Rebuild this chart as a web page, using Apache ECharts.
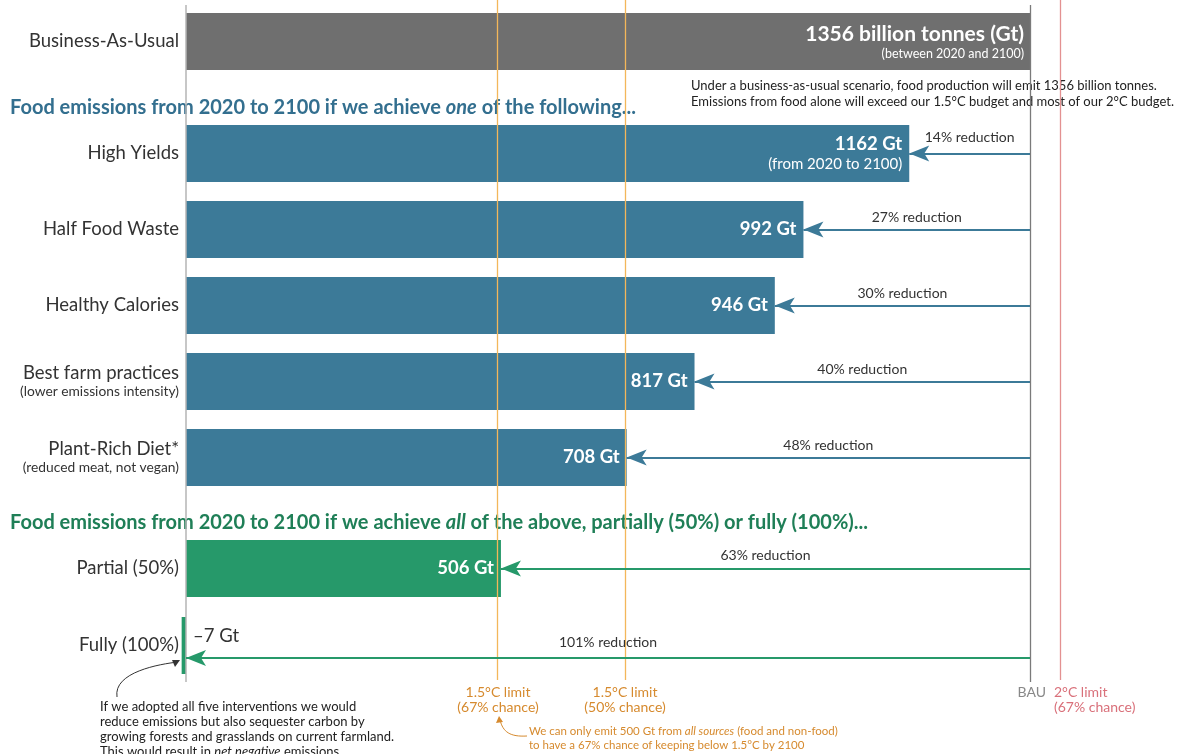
<!DOCTYPE html>
<html>
<head>
<meta charset="utf-8">
<script src="https://cdn.jsdelivr.net/npm/echarts@6/dist/echarts.min.js"></script>
<style>
  html, body { margin: 0; padding: 0; background: #ffffff; }
  #chart { width: 1203px; height: 754px; }
</style>
</head>
<body>
<div id="chart"></div>
<script>
// Food-system emissions 2020–2100 (Gt CO2-equivalent)
const bauCategory = ['Business-As-Usual'];
const bauValue = [1356];

const singleCategories = ['High Yields', 'Half Food Waste', 'Healthy Calories', 'Best farm practices', 'Plant-Rich Diet*'];
const singleSubtitles = ['', '', '', '(lower emissions intensity)', '(reduced meat, not vegan)'];
const singleValues = [1162, 992, 946, 817, 708];
const singleReductions = [14, 27, 30, 40, 48];

const combinedCategories = ['Partial (50%)', 'Fully (100%)'];
const combinedValues = [506, -7];
const combinedReductions = [63, 101];

// Remaining carbon budgets from all sources
const orangeLimits = [500, 705];   // 1.5°C: 67% and 50% chance
const redLimits = [1405];          // 2°C: 67% chance

const FONT = 'Lato, "Noto Sans", sans-serif';
const BLUE = '#3c7a98';
const GREEN = '#26996a';
const ORANGE_TEXT = '#d68a2e';
const X_MIN = -100, X_MAX = 1500;
const LEFT = 123.76, RIGHT = 83.37;
const ZERO_SHIFT = -62.24;   // moves category labels onto the zero line

const chart = echarts.init(document.getElementById('chart'), null, { renderer: 'canvas' });

function grid(top, height) {
  return { left: LEFT, right: RIGHT, top, height, containLabel: false, outerBoundsMode: 'none' };
}
function xAxis(gridIndex) {
  return { gridIndex, type: 'value', min: X_MIN, max: X_MAX, show: false };
}
function hiddenValueY(gridIndex) {
  return { gridIndex, type: 'value', min: 0, max: 1, show: false };
}
function catY(gridIndex, data, extra) {
  return Object.assign({
    gridIndex, type: 'category', data, inverse: true, offset: ZERO_SHIFT,
    axisLine: { show: false, onZero: false }, axisTick: { show: false }, splitLine: { show: false },
    axisLabel: { fontFamily: FONT, fontSize: 18.5, color: '#333', margin: 7 }
  }, extra || {});
}

// Arrows from the BAU total down to each scenario, labelled with the reduction
function arrowLines(cats, values, reductions, color, labelDists) {
  return {
    silent: true,
    symbol: ['arrow', 'none'],
    symbolSize: 14,
    itemStyle: { color },
    lineStyle: { color, width: 2, type: 'solid' },
    emphasis: { disabled: true },
    label: { show: true, position: 'middle', fontFamily: FONT, fontSize: 14, color: '#333' },
    data: values.map((v, i) => [
      {
        coord: [Math.max(v, 0), cats[i]], symbol: 'arrow', symbolSize: [12, 20],
        itemStyle: { color },
        label: { formatter: reductions[i] + '% reduction', distance: labelDists[i] }
      },
      { coord: [bauValue[0], cats[i]], symbol: 'none' }
    ])
  };
}

const option = {
  backgroundColor: '#ffffff',
  animation: false,
  grid: [
    grid(0, 680),        // budget lines
    grid(5, 677),        // zero + BAU lines
    grid(13, 57),        // business as usual
    grid(115.5, 380),    // single interventions
    grid(530, 154),      // combined
    grid(619.5, 77)      // arrow for full adoption
  ],
  xAxis: [0, 1, 2, 3, 4, 5].map(i => xAxis(i)),
  yAxis: [
    hiddenValueY(0),
    hiddenValueY(1),
    catY(2, bauCategory),
    catY(3, singleCategories, {
      axisLabel: {
        fontFamily: FONT, margin: 7, color: '#333', align: 'right',
        formatter: (name, i) => singleSubtitles[i] ? '{m|' + name + '}\n{s|' + singleSubtitles[i] + '}' : '{m|' + name + '}',
        rich: {
          m: { fontFamily: FONT, fontSize: 18.5, color: '#333', lineHeight: 20, align: 'right' },
          s: { fontFamily: FONT, fontSize: 13.8, color: '#333', lineHeight: 16, align: 'right' }
        }
      }
    }),
    catY(4, combinedCategories),
    Object.assign(catY(5, [combinedCategories[1]]), { show: false })
  ],
  series: [
    {
      type: 'line', xAxisIndex: 0, yAxisIndex: 0, data: [], z: 1,
      markLine: {
        silent: true, symbol: 'none', label: { show: false }, emphasis: { disabled: true },
        data: orangeLimits.map(v => ({ xAxis: v, lineStyle: { color: '#f3b75a', width: 1.3, type: 'solid' } }))
          .concat(redLimits.map(v => ({ xAxis: v, lineStyle: { color: '#e39191', width: 1.3, type: 'solid' } })))
      }
    },
    {
      type: 'line', xAxisIndex: 1, yAxisIndex: 1, data: [], z: 1,
      markLine: {
        silent: true, symbol: 'none', label: { show: false }, emphasis: { disabled: true },
        data: [
          { xAxis: 0, lineStyle: { color: '#b4b4b4', width: 1.5, type: 'solid' } },
          { xAxis: bauValue[0], lineStyle: { color: '#7a7a7a', width: 1.3, type: 'solid' } }
        ]
      }
    },
    {
      type: 'bar', xAxisIndex: 2, yAxisIndex: 2, data: bauValue, barWidth: 57, z: 3,
      itemStyle: { color: '#6f6f6f' },
      silent: true,
      label: {
        show: true, position: 'insideRight', distance: 6, align: 'right',
        formatter: p => '{v|' + p.value + ' billion tonnes (Gt)}\n{s|(between 2020 and 2100)}',
        rich: {
          v: { fontFamily: FONT, fontSize: 21, fontWeight: 'bold', color: '#fff', lineHeight: 24, align: 'right' },
          s: { fontFamily: FONT, fontSize: 12.5, color: '#fff', lineHeight: 14, align: 'right' }
        }
      }
    },
    {
      type: 'bar', xAxisIndex: 3, yAxisIndex: 3, data: singleValues, barWidth: 57, z: 3,
      itemStyle: { color: BLUE },
      silent: true,
      label: {
        show: true, position: 'insideRight', distance: 7, align: 'right',
        formatter: p => p.dataIndex === 0
          ? '{v|' + p.value + ' Gt}\n{s|(from 2020 to 2100)}'
          : '{v|' + p.value + ' Gt}',
        rich: {
          v: { fontFamily: FONT, fontSize: 18.5, fontWeight: 'bold', color: '#fff', lineHeight: 22, align: 'right' },
          s: { fontFamily: FONT, fontSize: 15, color: '#fff', lineHeight: 18, align: 'right' }
        }
      },
      markLine: arrowLines(singleCategories, singleValues, singleReductions, BLUE, [9, 5, 5, 5, 5])
    },
    {
      type: 'bar', xAxisIndex: 4, yAxisIndex: 4, data: combinedValues, barWidth: 57, z: 3,
      itemStyle: { color: GREEN },
      silent: true,
      label: {
        show: true, position: 'insideRight', distance: 7,
        fontFamily: FONT, fontSize: 18.5, fontWeight: 'bold', color: '#fff',
        formatter: p => p.value > 0 ? p.value + ' Gt' : ''
      },
      markLine: arrowLines([combinedCategories[0]], [combinedValues[0]], [combinedReductions[0]], GREEN, [6])
    },
    {
      type: 'line', xAxisIndex: 5, yAxisIndex: 5, data: [], z: 2,
      markLine: arrowLines([combinedCategories[1]], [combinedValues[1]], [combinedReductions[1]], GREEN, [9])
    }
  ],
  graphic: [
    {
      type: 'text', left: 10, top: 98, silent: true,
      style: {
        text: '{a|Food emissions from 2020 to 2100 if we achieve }{b|one}{a| of the following...}',
        rich: {
          a: { fontFamily: FONT, fontSize: 20, fontWeight: 'bold', fill: '#336f8f' },
          b: { fontFamily: FONT, fontSize: 20, fontWeight: 'bold', fontStyle: 'italic', fill: '#336f8f' }
        }
      }
    },
    {
      type: 'text', left: 10, top: 513, silent: true,
      style: {
        text: '{a|Food emissions from 2020 to 2100 if we achieve }{b|all}{a| of the above, partially (50%) or fully (100%)...}',
        rich: {
          a: { fontFamily: FONT, fontSize: 20, fontWeight: 'bold', fill: '#1f7f57' },
          b: { fontFamily: FONT, fontSize: 20, fontWeight: 'bold', fontStyle: 'italic', fill: '#1f7f57' }
        }
      }
    },
    {
      type: 'text', left: 691, top: 78, silent: true,
      style: {
        text: 'Under a business-as-usual scenario, food production will emit 1356 billion tonnes.\nEmissions from food alone will exceed our 1.5°C budget and most of our 2°C budget.',
        fontFamily: FONT, fontSize: 13, fill: '#222', lineHeight: 16
      }
    },
    // Value label for full adoption (net negative)
    {
      type: 'text', left: 193, top: 627, silent: true,
      style: { text: '\u2013' + Math.abs(combinedValues[1]) + ' Gt', fontFamily: FONT, fontSize: 18.5, fill: '#333' }
    },
    // Budget line captions
    {
      type: 'text', x: 498, y: 685, silent: true,
      style: { text: '1.5°C limit\n(67% chance)', align: 'center', fontFamily: FONT, fontSize: 14, fill: ORANGE_TEXT, lineHeight: 15 }
    },
    {
      type: 'text', x: 625, y: 685, silent: true,
      style: { text: '1.5°C limit\n(50% chance)', align: 'center', fontFamily: FONT, fontSize: 14, fill: ORANGE_TEXT, lineHeight: 15 }
    },
    {
      type: 'text', x: 1046, y: 685, silent: true,
      style: { text: 'BAU', align: 'right', fontFamily: FONT, fontSize: 14, fill: '#888' }
    },
    {
      type: 'text', x: 1054, y: 685, silent: true,
      style: { text: '2°C limit\n(67% chance)', align: 'left', fontFamily: FONT, fontSize: 14, fill: '#d9707a', lineHeight: 15 }
    },
    {
      type: 'text', x: 529, y: 724, silent: true,
      style: {
        text: '{a|We can only emit 500 Gt from }{b|all sources}{a| (food and non-food)}\n{a|to have a 67% chance of keeping below 1.5°C by 2100}',
        rich: {
          a: { fontFamily: FONT, fontSize: 11.5, fill: ORANGE_TEXT, lineHeight: 14 },
          b: { fontFamily: FONT, fontSize: 11.5, fontStyle: 'italic', fill: ORANGE_TEXT, lineHeight: 14 }
        }
      }
    },
    {
      type: 'text', x: 100, y: 699, silent: true,
      style: {
        text: '{a|If we adopted all five interventions we would}\n{a|reduce emissions but also sequester carbon by}\n{a|growing forests and grasslands on current farmland.}\n{a|This would result in }{b|net negative}{a| emissions.}',
        rich: {
          a: { fontFamily: FONT, fontSize: 13, fill: '#222', lineHeight: 15 },
          b: { fontFamily: FONT, fontSize: 13, fontStyle: 'italic', fill: '#222', lineHeight: 15 }
        }
      }
    },
    // Pointer to the full-adoption bar
    {
      type: 'bezierCurve', silent: true,
      shape: { x1: 117, y1: 697, x2: 178, y2: 662, cpx1: 113, cpy1: 672, cpx2: 160, cpy2: 664 },
      style: { stroke: '#333', lineWidth: 1, fill: null }
    },
    {
      type: 'polygon', silent: true,
      shape: { points: [[180, 660], [172, 660], [175, 667]] },
      style: { fill: '#333' }
    },
    // Pointer to the 1.5°C (67%) caption
    {
      type: 'bezierCurve', silent: true,
      shape: { x1: 527, y1: 736, x2: 500, y2: 720, cpx1: 510, cpy1: 737, cpx2: 503, cpy2: 732 },
      style: { stroke: ORANGE_TEXT, lineWidth: 1, fill: null }
    },
    {
      type: 'polygon', silent: true,
      shape: { points: [[499, 716], [496, 723], [503, 722]] },
      style: { fill: ORANGE_TEXT }
    }
  ]
};

chart.setOption(option);
</script>
</body>
</html>
